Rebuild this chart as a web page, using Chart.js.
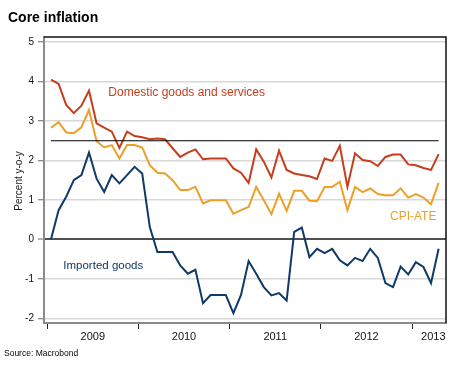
<!DOCTYPE html>
<html>
<head>
<meta charset="utf-8">
<script src="https://cdn.jsdelivr.net/npm/chart.js@4"></script>
<style>
    body { margin: 0; background: #fff; font-family: "Liberation Sans", Arial, sans-serif; }
    #wrap { position: relative; width: 460px; height: 370px; }
    #title { position: absolute; left: 8px; top: 9px; font-size: 14px; font-weight: bold; color: #000; }
    #source { position: absolute; left: 4px; top: 348px; font-size: 8.5px; color: #000; }
    canvas { position: absolute; left: 0; top: 0; }
</style>
</head>
<body>
<div id="wrap">
    <canvas id="chart" width="460" height="370"></canvas>
    <div id="title">Core inflation</div>
    <div id="source">Source: Macrobond</div>
</div>
<script>
// monthly, Jan 2009 .. Apr 2013
const firstYear = 2009;
const years = ['2009', '2010', '2011', '2012', '2013'];

const domestic = [
    4.05, 3.94, 3.41, 3.20, 3.39, 3.77, 2.94, 2.83, 2.73, 2.32, 2.73, 2.62,
    2.59, 2.54, 2.56, 2.54, 2.31, 2.09, 2.20, 2.28, 2.03, 2.05, 2.05, 2.05,
    1.80, 1.69, 1.43, 2.28, 1.97, 1.57, 2.25, 1.76, 1.67, 1.63, 1.60, 1.53,
    2.05, 1.99, 2.37, 1.33, 2.18, 2.01, 1.98, 1.86, 2.09, 2.15, 2.15, 1.90,
    1.88, 1.81, 1.76, 2.16
];

const cpiAte = [
    2.83, 2.97, 2.71, 2.69, 2.84, 3.28, 2.49, 2.33, 2.39, 2.05, 2.39, 2.39,
    2.33, 1.88, 1.69, 1.67, 1.50, 1.25, 1.25, 1.33, 0.91, 0.99, 0.99, 0.99,
    0.65, 0.74, 0.82, 1.33, 0.99, 0.64, 1.16, 0.72, 1.23, 1.23, 0.98, 0.97,
    1.33, 1.33, 1.46, 0.74, 1.33, 1.20, 1.29, 1.15, 1.12, 1.12, 1.29, 1.06,
    1.15, 1.06, 0.89, 1.43
];

const imported = [
    0.00, 0.74, 1.08, 1.50, 1.63, 2.20, 1.54, 1.20, 1.63, 1.42, 1.63, 1.84,
    1.67, 0.31, -0.32, -0.32, -0.32, -0.66, -0.87, -0.77, -1.62, -1.41, -1.41, -1.41,
    -1.87, -1.41, -0.55, -0.87, -1.21, -1.42, -1.36, -1.55, 0.19, 0.30, -0.45, -0.24,
    -0.35, -0.24, -0.53, -0.66, -0.47, -0.55, -0.24, -0.47, -1.11, -1.21, -0.69, -0.89,
    -0.58, -0.70, -1.11, -0.24
];

const inflationTarget = 2.5;
const yTicks = [-2, -1, 0, 1, 2, 3, 4, 5];

const colRed = '#c83c1c';
const colOrange = '#eca02a';
const colBlue = '#0f3a68';

function toPoints(arr) {
    return arr.map(function(v, i) { return { x: i, y: v }; });
}

// year boundaries get tick marks, year middles get labels
let boundaries = years.map(function(y, i) { return i * 12 - 0.5; });
let labelPos = years.map(function(y, i) { return i < years.length - 1 ? i * 12 + 5.5 : i * 12 + 2.3; });

const textLabels = [
    { text: 'Domestic goods and services', x: 7.54, y: 3.71, color: colRed, size: 12 },
    { text: 'CPI-ATE', x: 44.6, y: 0.57, color: colOrange, size: 12 },
    { text: 'Imported goods', x: 1.62, y: -0.67, color: colBlue, size: 11.5 }
];

const extrasPlugin = {
    id: 'extras',
    afterDraw: function(chart) {
        const ctx = chart.ctx;
        const a = chart.chartArea;
        const xs = chart.scales.x;
        const ys = chart.scales.y;
        ctx.save();
        // frame top / right
        ctx.strokeStyle = '#111';
        ctx.lineWidth = 1.5;
        ctx.beginPath();
        ctx.moveTo(a.left, a.top);
        ctx.lineTo(a.right, a.top);
        ctx.lineTo(a.right, a.bottom);
        ctx.stroke();

        ctx.textBaseline = 'middle';
        ctx.textAlign = 'left';
        textLabels.forEach(function(l) {
            ctx.font = l.size + 'px "Liberation Sans", Arial, sans-serif';
            ctx.fillStyle = l.color;
            ctx.fillText(l.text, xs.getPixelForValue(l.x), ys.getPixelForValue(l.y));
        });

        // y axis title
        ctx.translate(19.5, 181);
        ctx.rotate(-Math.PI / 2);
        ctx.textAlign = 'center';
        ctx.fillStyle = '#222';
        ctx.font = '10px "Liberation Sans", Arial, sans-serif';
        ctx.fillText('Percent y-o-y', 0, 0);
        ctx.restore();
    }
};

const lineOpts = { borderWidth: 2, pointRadius: 0, tension: 0, fill: false };

window.coreChart = new Chart(document.getElementById('chart'), {
    type: 'line',
    data: {
        datasets: [
            Object.assign({ label: 'Target', data: toPoints(domestic.map(function() { return inflationTarget; })), borderColor: '#000' }, lineOpts, { borderWidth: 1.2 }),
            Object.assign({ label: 'Imported goods', data: toPoints(imported), borderColor: colBlue }, lineOpts),
            Object.assign({ label: 'CPI-ATE', data: toPoints(cpiAte), borderColor: colOrange }, lineOpts),
            Object.assign({ label: 'Domestic goods and services', data: toPoints(domestic), borderColor: colRed }, lineOpts)
        ]
    },
    options: {
        responsive: false,
        animation: false,
        layout: { padding: { left: 0, top: 37, right: 14, bottom: 0 } },
        plugins: { legend: { display: false }, tooltip: { enabled: false } },
        scales: {
            x: {
                type: 'linear',
                min: -0.92,
                max: 51.97,
                afterFit: function(scale) { scale.height = 47; },
                afterBuildTicks: function(scale) {
                    scale.ticks = boundaries.concat(labelPos).map(function(v) { return { value: v }; });
                },
                ticks: {
                    autoSkip: false,
                    maxRotation: 0,
                    padding: 1,
                    color: '#111',
                    font: { size: 11, family: '"Liberation Sans", Arial, sans-serif' },
                    callback: function(value) {
                        let k = labelPos.indexOf(value);
                        return k >= 0 ? years[k] : '';
                    }
                },
                grid: {
                    drawOnChartArea: false,
                    tickLength: 6,
                    tickWidth: 1,
                    tickColor: function(c) {
                        return boundaries.indexOf(c.tick && c.tick.value) >= 0 ? '#222' : 'rgba(0,0,0,0)';
                    }
                },
                border: { color: '#8a8a8a', width: 2 }
            },
            y: {
                min: -2.12,
                max: 5.13,
                afterFit: function(scale) { scale.width = 44; },
                afterBuildTicks: function(scale) {
                    scale.ticks = yTicks.map(function(v) { return { value: v }; });
                },
                ticks: {
                    padding: 4,
                    color: '#111',
                    font: { size: 10, family: '"Liberation Sans", Arial, sans-serif' }
                },
                grid: {
                    color: function(c) { return c.tick && c.tick.value === 0 ? '#505050' : '#d8d8d8'; },
                    lineWidth: function(c) { return c.tick && c.tick.value === 0 ? 2 : 1.5; },
                    tickLength: 6,
                    tickWidth: 1,
                    tickColor: '#666'
                },
                border: { color: '#8a8a8a', width: 2 }
            }
        }
    },
    plugins: [extrasPlugin]
});
</script>
</body>
</html>
